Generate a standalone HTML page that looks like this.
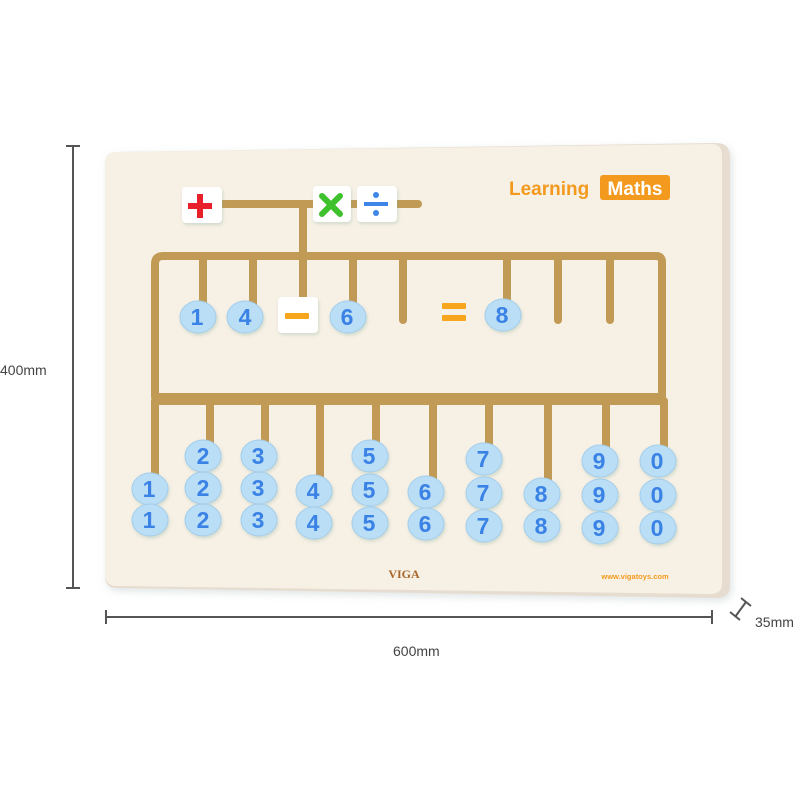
<!DOCTYPE html>
<html><head><meta charset="utf-8"><style>
html,body{margin:0;padding:0;background:#fff;}
svg{display:block;}
text{font-family:"Liberation Sans",sans-serif;}
.b{fill:#b9def5;stroke:#a3cdec;stroke-width:1}
.n{fill:#3a82e6;font-weight:bold;font-size:23px;text-anchor:middle}
</style></head><body>
<svg width="800" height="800" viewBox="0 0 800 800">
<defs>
<filter id="sh" x="-10%" y="-10%" width="120%" height="120%"><feDropShadow dx="2" dy="3" stdDeviation="4" flood-color="#9aa" flood-opacity="0.3"/></filter>
<filter id="bs" x="-30%" y="-30%" width="160%" height="160%"><feDropShadow dx="1" dy="2" stdDeviation="1.5" flood-color="#7a9" flood-opacity="0.3"/></filter>
</defs>
<g stroke="#555" stroke-width="2" fill="none">
<line x1="73" y1="146" x2="73" y2="588"/><line x1="66" y1="146" x2="80" y2="146"/><line x1="66" y1="588" x2="80" y2="588"/>
<line x1="106" y1="617" x2="712" y2="617"/><line x1="106" y1="610" x2="106" y2="624"/><line x1="712" y1="610" x2="712" y2="624"/>
<line x1="735" y1="617" x2="746" y2="602"/><line x1="730" y1="612" x2="740" y2="620"/><line x1="741" y1="598" x2="751" y2="606"/>
</g>
<text x="0" y="375" font-size="14" fill="#444">400mm</text>
<text x="393" y="656" font-size="14" fill="#444">600mm</text>
<text x="755" y="627" font-size="14" fill="#444">35mm</text>
<path d="M117 152 L716 143 Q730 143 730 157 L730 586 Q730 598 716 598 L117 588 Q105 588 105 576 L105 164 Q105 152 117 152 Z" fill="#e6ddd0" filter="url(#sh)"/>
<path d="M117 152 L712 144 Q722 144 722 156 L722 584 Q722 594 710 594 L117 586 Q105 586 105 574 L105 164 Q105 152 117 152 Z" fill="#f7f0e5"/>
<g stroke="#c19a55" stroke-width="8" fill="none" stroke-linecap="round" stroke-linejoin="round">
<line x1="220" y1="204" x2="418" y2="204"/>
<line x1="303" y1="204" x2="303" y2="256"/>
<path d="M163 256 L656 256 Q662 256 662 262 L662 397 L155 397 L155 264 Q155 256 163 256"/>
<line x1="203" y1="256" x2="203" y2="305"/><line x1="253" y1="256" x2="253" y2="305"/>
<line x1="303" y1="256" x2="303" y2="305"/><line x1="353" y1="256" x2="353" y2="305"/>
<line x1="403" y1="256" x2="403" y2="320"/><line x1="507" y1="256" x2="507" y2="305"/>
<line x1="558" y1="256" x2="558" y2="320"/><line x1="610" y1="256" x2="610" y2="320"/>
<line x1="155" y1="401" x2="662" y2="401"/>
<line x1="155" y1="401" x2="155" y2="480"/><line x1="210" y1="401" x2="210" y2="450"/>
<line x1="265" y1="401" x2="265" y2="450"/><line x1="320" y1="401" x2="320" y2="480"/>
<line x1="376" y1="401" x2="376" y2="450"/><line x1="433" y1="401" x2="433" y2="480"/>
<line x1="489" y1="401" x2="489" y2="450"/><line x1="548" y1="401" x2="548" y2="480"/>
<line x1="606" y1="401" x2="606" y2="450"/><line x1="664" y1="401" x2="664" y2="450"/>
</g>
<g filter="url(#bs)" fill="#fff">
<rect x="182" y="187" width="40" height="36" rx="4"/>
<rect x="313" y="186" width="38" height="36" rx="4"/>
<rect x="357" y="186" width="40" height="36" rx="4"/>
<rect x="278" y="297" width="40" height="36" rx="4"/>
</g>
<rect x="188" y="203" width="24" height="6" fill="#e8202a"/><rect x="197" y="194" width="6" height="24" fill="#e8202a"/>
<g stroke="#3fc12d" stroke-width="6" stroke-linecap="round"><line x1="322" y1="196" x2="340" y2="214"/><line x1="340" y1="196" x2="322" y2="214"/></g>
<rect x="364" y="202" width="24" height="4" fill="#3d86e8"/><circle cx="376" cy="195" r="3" fill="#3d86e8"/><circle cx="376" cy="213" r="3" fill="#3d86e8"/>
<rect x="285" y="313" width="24" height="6" rx="1" fill="#f7a51c"/>
<rect x="442" y="303" width="24" height="6" rx="1" fill="#f7a51c"/><rect x="442" y="315" width="24" height="6" rx="1" fill="#f7a51c"/>
<g filter="url(#bs)">
<g class="b">
<ellipse cx="198" cy="317" rx="18" ry="16"/><ellipse cx="245" cy="317" rx="18" ry="16"/><ellipse cx="348" cy="317" rx="18" ry="16"/><ellipse cx="503" cy="315" rx="18" ry="16"/>
<ellipse cx="150" cy="489" rx="18" ry="16"/><ellipse cx="150" cy="520" rx="18" ry="16"/>
<ellipse cx="203" cy="456" rx="18" ry="16"/><ellipse cx="203" cy="488" rx="18" ry="16"/><ellipse cx="203" cy="520" rx="18" ry="16"/>
<ellipse cx="259" cy="456" rx="18" ry="16"/><ellipse cx="259" cy="488" rx="18" ry="16"/><ellipse cx="259" cy="520" rx="18" ry="16"/>
<ellipse cx="314" cy="491" rx="18" ry="16"/><ellipse cx="314" cy="523" rx="18" ry="16"/>
<ellipse cx="370" cy="456" rx="18" ry="16"/><ellipse cx="370" cy="490" rx="18" ry="16"/><ellipse cx="370" cy="523" rx="18" ry="16"/>
<ellipse cx="426" cy="492" rx="18" ry="16"/><ellipse cx="426" cy="524" rx="18" ry="16"/>
<ellipse cx="484" cy="459" rx="18" ry="16"/><ellipse cx="484" cy="493" rx="18" ry="16"/><ellipse cx="484" cy="526" rx="18" ry="16"/>
<ellipse cx="542" cy="494" rx="18" ry="16"/><ellipse cx="542" cy="526" rx="18" ry="16"/>
<ellipse cx="600" cy="461" rx="18" ry="16"/><ellipse cx="600" cy="495" rx="18" ry="16"/><ellipse cx="600" cy="528" rx="18" ry="16"/>
<ellipse cx="658" cy="461" rx="18" ry="16"/><ellipse cx="658" cy="495" rx="18" ry="16"/><ellipse cx="658" cy="528" rx="18" ry="16"/>
</g></g>
<g class="n">
<text x="197" y="325">1</text><text x="245" y="325">4</text><text x="347" y="325">6</text><text x="502" y="323">8</text>
<text x="149" y="497">1</text><text x="149" y="528">1</text>
<text x="203" y="464">2</text><text x="203" y="496">2</text><text x="203" y="528">2</text>
<text x="258" y="464">3</text><text x="258" y="496">3</text><text x="258" y="528">3</text>
<text x="313" y="499">4</text><text x="313" y="531">4</text>
<text x="369" y="464">5</text><text x="369" y="498">5</text><text x="369" y="531">5</text>
<text x="425" y="500">6</text><text x="425" y="532">6</text>
<text x="483" y="467">7</text><text x="483" y="501">7</text><text x="483" y="534">7</text>
<text x="541" y="502">8</text><text x="541" y="534">8</text>
<text x="599" y="469">9</text><text x="599" y="503">9</text><text x="599" y="536">9</text>
<text x="657" y="469">0</text><text x="657" y="503">0</text><text x="657" y="536">0</text>
</g>
<text x="509" y="195" font-size="19" font-weight="bold" fill="#f39a1e">Learning</text>
<rect x="600" y="175" width="70" height="25" rx="3" fill="#f39a1e"/>
<text x="635" y="195" font-size="19" font-weight="bold" fill="#fff" text-anchor="middle">Maths</text>
<text x="404" y="578" font-size="12" font-weight="bold" fill="#a8662a" text-anchor="middle" style="font-family:'Liberation Serif',serif">VIGA</text>
<text x="635" y="579" font-size="7.5" font-weight="bold" fill="#f39a1e" text-anchor="middle">www.vigatoys.com</text>
</svg>
</body></html>
